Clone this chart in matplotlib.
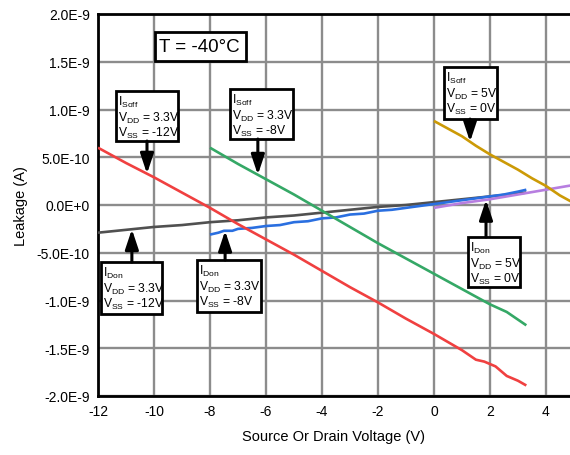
import numpy as np
import matplotlib
matplotlib.use('Agg')
import matplotlib.pyplot as plt
from matplotlib.patches import Rectangle

plt.rcParams['font.family'] = ['Liberation Sans', 'DejaVu Sans']
plt.rcParams['mathtext.fontset'] = 'custom'
plt.rcParams['mathtext.rm'] = 'Liberation Sans'
plt.rcParams['mathtext.it'] = 'Liberation Sans:italic'
plt.rcParams['axes.unicode_minus'] = False

# leakage currents, in units of 1E-9 A
x_soff_12 = [-12, -11, -10, -9, -8, -7, -6, -5, -4, -3, -2, -1, 0, 1, 1.5, 1.8, 2.2, 2.6, 3.0, 3.3]
y_soff_12 = [0.60, 0.44, 0.29, 0.13, -0.03, -0.20, -0.36, -0.52, -0.69, -0.86, -1.02, -1.19,
             -1.35, -1.52, -1.62, -1.64, -1.69, -1.79, -1.84, -1.89]

x_soff_8 = [-8, -7, -6, -5, -4, -3, -2, -1, 0, 1, 2, 2.6, 3.0, 3.3]
y_soff_8 = [0.60, 0.43, 0.27, 0.11, -0.06, -0.23, -0.40, -0.56, -0.72, -0.88, -1.04, -1.12, -1.20, -1.26]

x_soff_5 = [0, 0.5, 1, 1.5, 2, 2.5, 3, 3.5, 4, 4.5, 5]
y_soff_5 = [0.88, 0.80, 0.72, 0.62, 0.53, 0.45, 0.37, 0.28, 0.20, 0.10, 0.02]

x_don_12 = [-12, -11, -10, -9, -8, -7, -6, -5, -4, -3, -2, -1, 0, 1, 2, 3, 3.3]
y_don_12 = [-0.29, -0.26, -0.23, -0.21, -0.18, -0.16, -0.13, -0.11, -0.08, -0.05, -0.02, 0.00,
            0.03, 0.06, 0.09, 0.12, 0.13]

x_don_8 = [-8, -7.7, -7.5, -7.2, -7, -6.5, -6, -5.5, -5, -4.5, -4, -3.5, -3, -2.5, -2, -1.5,
           -1, -0.5, 0, 0.5, 1, 1.5, 2, 2.5, 3, 3.3]
y_don_8 = [-0.31, -0.29, -0.27, -0.27, -0.25, -0.24, -0.22, -0.21, -0.18, -0.17, -0.14, -0.13,
           -0.10, -0.09, -0.06, -0.05, -0.03, -0.01, 0.01, 0.03, 0.05, 0.07, 0.09, 0.11, 0.14, 0.16]

x_don_5 = [0, 1, 2, 3, 4, 5]
y_don_5 = [-0.03, 0.02, 0.06, 0.11, 0.16, 0.21]

y_ticks = [2.0e-9, 1.5e-9, 1.0e-9, 5.0e-10, 0.0, -5.0e-10, -1.0e-9, -1.5e-9, -2.0e-9]
y_tick_labels = ['2.0E-9', '1.5E-9', '1.0E-9', '5.0E-10', '0.0E+0',
                 '-5.0E-10', '-1.0E-9', '-1.5E-9', '-2.0E-9']
x_ticks = [-12, -10, -8, -6, -4, -2, 0, 2, 4]

curves = [
    (x_don_12, y_don_12, '#505050'),
    (x_don_8, y_don_8, '#2a6fe0'),
    (x_don_5, y_don_5, '#b77ee0'),
    (x_soff_5, y_soff_5, '#cc9a06'),
    (x_soff_8, y_soff_8, '#35a866'),
    (x_soff_12, y_soff_12, '#f04040'),
]

# callouts: label lines, box (left, right, top, bottom), arrow x, curve it points to
callouts = [
    (['I$_{\\rm Soff}$', 'V$_{\\rm DD}$ = 3.3V', 'V$_{\\rm SS}$ = -12V'], (-11.36, -9.14, 1.194, 0.670), -10.25, (x_soff_12, y_soff_12)),
    (['I$_{\\rm Soff}$', 'V$_{\\rm DD}$ = 3.3V', 'V$_{\\rm SS}$ = -8V'], (-7.29, -5.04, 1.215, 0.691), -6.29, (x_soff_8, y_soff_8)),
    (['I$_{\\rm Soff}$', 'V$_{\\rm DD}$ = 5V', 'V$_{\\rm SS}$ = 0V'], (0.36, 2.25, 1.445, 0.900), 1.29, (x_soff_5, y_soff_5)),
    (['I$_{\\rm Don}$', 'V$_{\\rm DD}$ = 3.3V', 'V$_{\\rm SS}$ = -12V'], (-11.89, -9.71, -0.597, -1.141), -10.79, (x_don_12, y_don_12)),
    (['I$_{\\rm Don}$', 'V$_{\\rm DD}$ = 3.3V', 'V$_{\\rm SS}$ = -8V'], (-8.46, -6.18, -0.576, -1.120), -7.46, (x_don_8, y_don_8)),
    (['I$_{\\rm Don}$', 'V$_{\\rm DD}$ = 5V', 'V$_{\\rm SS}$ = 0V'], (1.21, 3.07, -0.335, -0.859), 1.86, (x_don_5, y_don_5)),
]

fig = plt.figure(figsize=(5.7, 4.56), dpi=100)
ax = fig.add_axes([98 / 570, 59 / 456, 1 - 98 / 570, 382 / 456])

for xs, ys, col in curves:
    ax.plot(xs, np.array(ys) * 1e-9, color=col, lw=1.9, zorder=3, solid_capstyle='butt')

px = 72 / 100  # one pixel in points
for lines, (l, r, t, b), ax_x, (cx, cy) in callouts:
    ax.add_patch(Rectangle((l, b * 1e-9), r - l, (t - b) * 1e-9, facecolor='white',
                           edgecolor='black', lw=2, zorder=5))
    for i, line in enumerate(lines):
        ax.annotate(line, xy=(l, t * 1e-9), xytext=(2 * px, -(14 + 15.5 * i) * px),
                    textcoords='offset points', fontsize=8.7, va='baseline', ha='left',
                    zorder=6)
    tip = np.interp(ax_x, cx, cy)
    start = b if tip < b else t
    ax.annotate('', xy=(ax_x, tip * 1e-9), xytext=(ax_x, start * 1e-9),
                arrowprops=dict(arrowstyle='-|>,head_length=0.6,head_width=0.2',
                                lw=2.2, color='black', mutation_scale=20,
                                shrinkA=0, shrinkB=0),
                zorder=5)

ax.add_patch(Rectangle((-9.96, 1.51e-9), 3.25, 0.30e-9, facecolor='white',
                       edgecolor='black', lw=2, zorder=5))
ax.text(-9.96 + 0.14, 1.655e-9, 'T = -40\u00b0C', fontsize=13.5, va='center', ha='left',
        zorder=6)

ax.set_xlim(-12, 4.86)
ax.set_ylim(-2.0e-9, 2.0e-9)
ax.set_xticks(x_ticks)
ax.set_yticks(y_ticks)
ax.set_yticklabels(y_tick_labels)
ax.tick_params(length=0, labelsize=10, pad=6)
ax.grid(True, color='#8c8c8c', lw=1.7, zorder=1)
ax.set_axisbelow(True)
for side in ['left', 'bottom', 'top']:
    ax.spines[side].set_linewidth(2)
    ax.spines[side].set_color('black')
ax.spines['right'].set_visible(False)

ax.set_xlabel('Source Or Drain Voltage (V)', fontsize=10.5, labelpad=8)
ax.set_ylabel('Leakage (A)', fontsize=10.5, labelpad=6)

fig.savefig('out.png', dpi=100)
